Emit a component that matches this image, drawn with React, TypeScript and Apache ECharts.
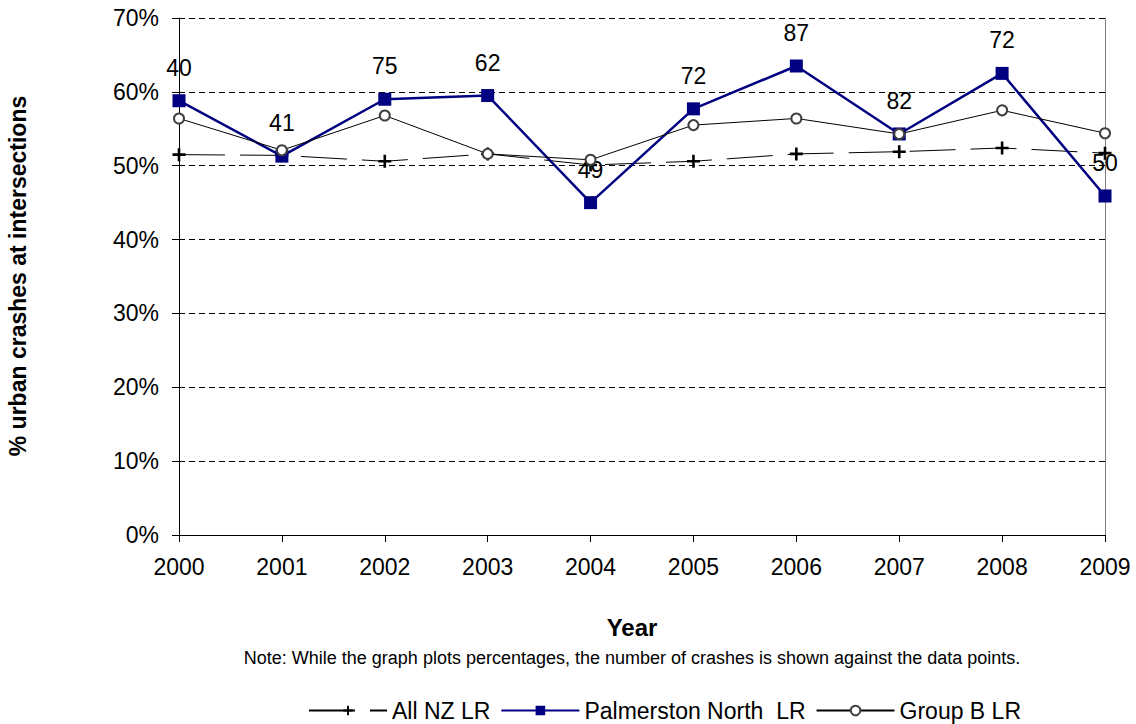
import React, { useEffect, useRef } from "react";
import * as echarts from "echarts";

const years = ["2000", "2001", "2002", "2003", "2004", "2005", "2006", "2007", "2008", "2009"];
const allNZ = [51.5, 51.4, 50.6, 51.6, 50.1, 50.6, 51.6, 51.9, 52.4, 51.7];
const palmerstonNorth = [58.8, 51.3, 59.0, 59.5, 45.0, 57.7, 63.5, 54.3, 62.5, 45.9];
const groupB = [56.4, 52.1, 56.8, 51.6, 50.8, 55.5, 56.4, 54.3, 57.5, 54.4];
const crashCounts = [40, 41, 75, 62, 49, 72, 87, 82, 72, 50];
const seriesNames = ["All NZ LR", "Palmerston North  LR", "Group B LR"];

const FONT = "'Liberation Sans', Arial, sans-serif";
const PLUS = "path://M4,0H6V4H10V6H6V10H4V6H0V4H4Z";

export default function App() {
  const ref = useRef<HTMLDivElement>(null);
  useEffect(() => {
    if (!ref.current) return;
    const chart = echarts.init(ref.current, null, { renderer: "svg" });
    chart.setOption({
      animation: false,
      backgroundColor: "#fff",
      textStyle: { fontFamily: FONT },
      grid: { left: 179, right: 31, top: 18, bottom: 189, containLabel: false },
      legend: {
        left: 303,
        top: 694,
        itemWidth: 78,
        itemHeight: 12,
        itemGap: 10,
        textStyle: { fontSize: 23, color: "#000", fontFamily: FONT },
        data: seriesNames,
      },
      xAxis: {
        type: "category",
        data: years,
        boundaryGap: false,
        axisLine: { lineStyle: { color: "#000", width: 1 } },
        axisTick: { show: true, length: 7, lineStyle: { color: "#000" } },
        axisLabel: { color: "#000", fontSize: 23, margin: 20, fontFamily: FONT },
        splitLine: { show: false },
      },
      yAxis: [
        {
          type: "value",
          min: 0,
          max: 70,
          interval: 10,
          axisLine: { show: true, lineStyle: { color: "#000", width: 1 } },
          axisTick: { show: true, length: 7, lineStyle: { color: "#000" } },
          axisLabel: { color: "#000", fontSize: 23, margin: 20, formatter: "{value}%", fontFamily: FONT },
          splitLine: { show: true, lineStyle: { color: "#000", width: 1, type: [6, 4] } },
        },
        {
          type: "value",
          min: 0,
          max: 70,
          interval: 10,
          position: "right",
          axisLine: { show: true, lineStyle: { color: "#808080", width: 1 } },
          axisTick: { show: false },
          axisLabel: { show: false },
          splitLine: { show: false },
        },
      ],
      series: [
        {
          name: seriesNames[0],
          type: "line",
          data: allNZ,
          symbol: PLUS,
          symbolSize: 13,
          itemStyle: { color: "#000" },
          lineStyle: { color: "#000", width: 1, type: [46, 15] },
          z: 2,
        },
        {
          name: seriesNames[1],
          type: "line",
          data: palmerstonNorth,
          symbol: "rect",
          symbolSize: 13,
          itemStyle: { color: "#000080" },
          lineStyle: { color: "#000080", width: 2.5 },
          label: {
            show: true,
            position: "top",
            distance: 15,
            fontSize: 23,
            color: "#000",
            fontFamily: FONT,
            formatter: (p: any) => String(crashCounts[p.dataIndex]),
          },
          z: 3,
        },
        {
          name: seriesNames[2],
          type: "line",
          data: groupB,
          symbol: "circle",
          symbolSize: 10,
          itemStyle: { color: "#fff", borderColor: "#404040", borderWidth: 2 },
          lineStyle: { color: "#000", width: 1 },
          z: 4,
        },
      ],
      graphic: [
        {
          type: "text",
          x: 18,
          y: 276,
          rotation: Math.PI / 2,
          style: {
            text: "% urban crashes at intersections",
            fontSize: 23,
            fontWeight: "bold",
            fill: "#000",
            fontFamily: FONT,
            align: "center",
            verticalAlign: "middle",
          },
        },
        {
          type: "text",
          x: 632,
          y: 627,
          style: {
            text: "Year",
            fontSize: 24,
            fontWeight: "bold",
            fill: "#000",
            fontFamily: FONT,
            align: "center",
            verticalAlign: "middle",
          },
        },
        {
          type: "text",
          x: 632,
          y: 658,
          style: {
            text: "Note: While the graph plots percentages, the number of crashes is shown against the data points.",
            fontSize: 18,
            fill: "#000",
            fontFamily: FONT,
            align: "center",
            verticalAlign: "middle",
          },
        },
      ],
    });
    return () => chart.dispose();
  }, []);
  return <div ref={ref} style={{ width: 1136, height: 724, position: "absolute", left: 0, top: 0 }} />;
}
